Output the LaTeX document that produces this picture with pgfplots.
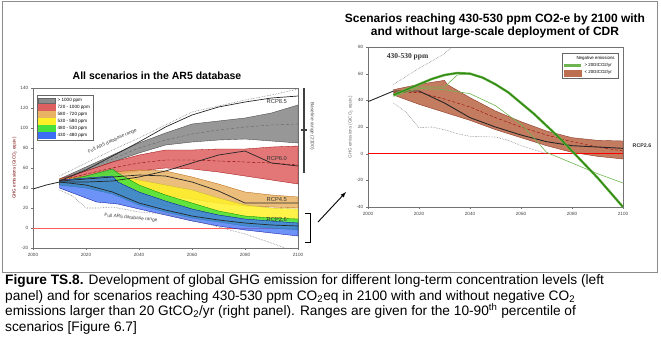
\documentclass[border=0pt]{standalone}
\usepackage{fontspec}
\setmainfont{Liberation Sans}
\newfontfamily\serifb{Liberation Serif}
\usepackage{pgfplots}
\pgfplotsset{compat=1.18}
\definecolor{cgrey}{RGB}{140,140,140}
\definecolor{cred}{RGB}{222,95,95}
\definecolor{corange}{RGB}{232,180,100}
\definecolor{cyellow}{RGB}{255,240,40}
\definecolor{cgreen}{RGB}{70,225,60}
\definecolor{cblue}{RGB}{60,110,245}
\definecolor{cbrown}{RGB}{190,110,80}
\definecolor{cbrownd}{RGB}{140,55,35}
\definecolor{gdark}{RGB}{50,140,20}
\definecolor{glight}{RGB}{110,180,80}
\definecolor{zline}{RGB}{255,90,90}
\pgfplotsset{
  panel/.style={scale only axis, clip=true,
    xmin=2000, xmax=2100, xtick={2000,2020,...,2100},
    tick label style={font=\fontsize{4.6}{5}\selectfont, color=black!75},
    /pgf/number format/assume math mode=true,
    /pgf/number format/1000 sep={},
    axis line style={black!55}, tick style={black!55},
    major tick length=1.8pt, tick align=outside,
    xtick pos=bottom, ytick pos=left,
    yticklabel style={xshift=0.5pt}, xticklabel style={yshift=0.5pt},
    legend cell align=left,
  },
}
\begin{document}
\begin{tikzpicture}
\path[use as bounding box] (0,0) rectangle (661pt,-360pt);
\draw[black!45, line width=0.9pt] (2.5pt,-1.5pt) rectangle (657pt,-272pt);

% ---------------- left panel ----------------
\begin{axis}[panel, at={(33pt,-248pt)}, anchor=south west, width=265pt, height=160pt,
  ymin=-20, ymax=140, ytick={-20,0,...,140},
  ylabel={GHG emissions (GtCO\textsubscript{2} equiv)},
  ylabel style={font=\fontsize{4.5}{5}\selectfont, color=red!45!black, yshift=-3pt},
  legend style={at={(0.015,0.956)}, anchor=north west, font=\fontsize{4.6}{5}\selectfont,
    draw=black!60, inner sep=1pt, row sep=-1.8pt, fill=white}]
\addlegendimage{area legend, fill=cgrey, draw=black!60}
\addlegendentry{> 1000 ppm}
\addlegendimage{area legend, fill=cred, draw=cred}
\addlegendentry{720 - 1000 ppm}
\addlegendimage{area legend, fill=corange, draw=corange}
\addlegendentry{580 - 720 ppm}
\addlegendimage{area legend, fill=cyellow, draw=cyellow}
\addlegendentry{530 - 580 ppm}
\addlegendimage{area legend, fill=cgreen, draw=cgreen}
\addlegendentry{480 - 530 ppm}
\addlegendimage{area legend, fill=cblue, draw=cblue}
\addlegendentry{430 - 480 ppm}
\addplot[forget plot, draw=zline, solid, line width=0.8pt] coordinates {(2000,0)(2100,0)};
% >1000
\addplot[forget plot, fill=cgrey, fill opacity=0.9, draw=black!70, line width=0.4pt] coordinates {
(2010,49)(2020,61)(2030,73)(2040,85)(2050,95)(2060,104)(2070,107)(2080,110)(2090,115)(2100,123)
(2100,85)(2090,87)(2080,89)(2070,88)(2060,86)(2050,83)(2040,75)(2030,66)(2020,57)(2010,47)} -- cycle;
% 720-1000
\addplot[forget plot, fill=cred, fill opacity=0.85, draw=red!60!black, line width=0.3pt] coordinates {
(2010,49)(2020,57)(2030,66)(2040,73)(2050,78)(2060,78)(2070,79)(2080,79)(2090,81)(2100,82)
(2100,44)(2090,48)(2080,52)(2070,56)(2060,59)(2050,60)(2040,57)(2030,53)(2020,50)(2010,47)} -- cycle;
% 580-720
\addplot[forget plot, fill=corange, fill opacity=0.85, draw=orange!70!black, line width=0.3pt] coordinates {
(2010,49)(2020,52)(2030,56)(2040,58)(2050,57)(2060,51)(2070,44)(2080,36)(2090,33)(2100,31)
(2100,20)(2090,21)(2080,22)(2070,25)(2060,29)(2050,33)(2040,37)(2030,40)(2020,42)(2010,43)} -- cycle;
% 530-580
\addplot[forget plot, fill=cyellow, fill opacity=0.85, draw=yellow!70!black, line width=0.3pt] coordinates {
(2010,48)(2020,50)(2030,53)(2040,48)(2050,43)(2060,38)(2070,30)(2080,23)(2090,20)(2100,19)
(2100,7)(2090,8)(2080,10)(2070,13)(2060,17)(2050,22)(2040,28)(2030,35)(2020,41)(2010,43)} -- cycle;
% 480-530
\addplot[forget plot, fill=cgreen, fill opacity=0.85, draw=green!50!black, line width=0.3pt] coordinates {
(2010,46)(2020,52)(2030,59)(2032,55)(2040,43)(2050,33)(2060,25)(2070,17)(2080,12)(2090,10)(2100,9)
(2100,-2)(2090,0)(2080,2)(2070,6)(2060,10)(2050,16)(2040,23)(2030,34)(2020,40)(2010,43)} -- cycle;
% 430-480
\addplot[forget plot, fill=cblue, fill opacity=0.75, draw=blue!60!black, line width=0.3pt] coordinates {
(2010,48)(2020,50)(2030,52)(2032,46)(2040,36)(2050,27)(2060,19)(2070,13)(2080,9)(2090,7)(2100,5)
(2100,-8)(2090,-5)(2080,-2)(2070,2)(2060,7)(2050,13)(2040,19)(2032,24)(2024,26)(2017,33)(2010,40)} -- cycle;
% medians
\addplot[forget plot, black!60, densely dashed, line width=0.4pt] coordinates {
(2010,48)(2020,59)(2030,69)(2040,80)(2050,88)(2060,94)(2070,98)(2080,101)(2090,103)(2100,104)};
\addplot[forget plot, red!50!black, densely dashed, line width=0.4pt] coordinates {
(2010,47)(2020,54)(2030,60)(2040,65)(2050,68)(2060,68)(2070,67)(2080,66)(2090,65)(2100,63)};
% full range
\addplot[forget plot, black!50, densely dotted, line width=0.6pt] coordinates {
(2010,52)(2020,65)(2030,78)(2040,90)(2050,103)(2060,116)(2070,122)(2080,128)(2090,133)(2100,139)};
\addplot[forget plot, black!50, densely dotted, line width=0.6pt] coordinates {
(2010,38)(2015,32)(2020,20)(2025,20)(2030,21)(2040,16)(2050,14)(2060,8)(2070,1)(2080,-6)(2090,-15)(2095,-20)(2098,-24)};
% history + RCPs
\addplot[forget plot, black!85, line width=0.8pt] coordinates {(2000,39)(2005,43)(2010,46)};
\addplot[forget plot, black!85, line width=0.7pt] coordinates {
(2010,47)(2020,58)(2030,72)(2040,86)(2050,101)(2060,113)(2070,121)(2080,126)(2090,130)(2100,132)};
\addplot[forget plot, black!85, line width=0.7pt] coordinates {
(2010,46)(2020,46)(2030,47)(2040,51)(2050,57)(2060,65)(2070,73)(2080,77)(2090,65)(2100,62)};
\addplot[forget plot, black!85, line width=0.7pt] coordinates {
(2010,47)(2020,49)(2030,51)(2040,53)(2050,52)(2060,46)(2070,37)(2080,25)(2090,25)(2100,25)};
\addplot[forget plot, black!85, line width=0.7pt] coordinates {
(2010,46)(2020,43)(2030,36)(2040,25)(2050,18)(2060,12)(2070,8)(2080,5)(2090,3)(2100,2)};
\node[font=\fontsize{5.8}{6}\selectfont, black!80] at (axis cs:2092,127) {RCP8.5};
\node[font=\fontsize{5.8}{6}\selectfont, black!80] at (axis cs:2092,70) {RCP6.0};
\node[font=\fontsize{5.8}{6}\selectfont, black!80] at (axis cs:2092,29) {RCP4.5};
\node[font=\fontsize{5.8}{6}\selectfont, black!80] at (axis cs:2092,9) {RCP2.6};
\node[font=\fontsize{4.8}{5}\selectfont, black!75, rotate=25] at (axis cs:2030,87) {Full AR5 database range};
\node[font=\fontsize{4.8}{5}\selectfont, black!75, rotate=-5] at (axis cs:2037,10) {Full AR5 database range};
\end{axis}

% ---------------- right panel ----------------
\begin{axis}[panel, at={(368pt,-207pt)}, anchor=south west, width=255pt, height=160pt,
  ymin=-40, ymax=80, ytick={-40,-20,...,80},
  ylabel={GHG emissions (GtCO\textsubscript{2} equiv.)},
  ylabel style={font=\fontsize{4.5}{5}\selectfont, color=black!60, yshift=-3pt},
  legend style={at={(0.98,0.9625)}, anchor=north east, font=\fontsize{4.4}{5}\selectfont,
    draw=black!60, inner sep=1pt, row sep=-1.5pt, fill=white}]
\addlegendimage{empty legend}
\addlegendentry{\hspace{-8pt}Negative emissions}
\addlegendimage{line width=2.6pt, color=glight}
\addlegendentry{> 20GtCO2/yr}
\addlegendimage{area legend, fill=cbrown, draw=cbrown}
\addlegendentry{< 20GtCO2/yr}
\addplot[forget plot, fill=cbrown, fill opacity=0.9, draw=cbrownd, line width=0.4pt] coordinates {
(2010,48)(2020,52)(2030,55)(2031,52)(2040,42)(2050,32)(2060,24)(2070,17)(2080,12)(2090,10)(2100,9.5)
(2100,-4)(2090,-2)(2080,1)(2070,6)(2060,12)(2050,18)(2040,25)(2030,31)(2020,37)(2010,44)} -- cycle;
\addplot[forget plot, draw=red, solid, line width=1pt] coordinates {(2000,0)(2100,0)};
\addplot[forget plot, red!60!black, densely dashed, line width=0.4pt] coordinates {
(2010,46)(2020,46)(2030,41)(2040,35)(2050,27)(2060,20)(2070,14)(2080,9)(2090,5)(2100,2)};
\addplot[forget plot, black!50, densely dotted, line width=0.6pt] coordinates {
(2010,52)(2020,64)(2030,75)(2035,84)};
\addplot[forget plot, black!50, densely dotted, line width=0.6pt] coordinates {
(2010,38)(2015,31)(2020,19.5)(2025,20)(2030,18)(2035,15)(2040,13)(2050,12.5)(2055,10)(2060,6)(2065,3)(2070,0)};
\addplot[forget plot, black!85, line width=0.9pt] coordinates {(2000,39)(2005,43)(2010,47)};
\addplot[forget plot, black!85, line width=0.9pt] coordinates {
(2010,47)(2020,47)(2030,38)(2040,27)(2050,20)(2060,14)(2070,9)(2080,6)(2090,5)(2100,4)};
\addplot[forget plot, glight, line width=0.6pt] coordinates {
(2010,45)(2020,50)(2030,50)(2035,59)(2040,60)};
\addplot[forget plot, glight, line width=0.6pt] coordinates {
(2010,43)(2020,49)(2030,48)(2040,45)(2050,36)(2060,22)(2065,12)(2070,1)(2080,-7)(2090,-15)(2100,-22)};
\addplot[forget plot, glight, line width=2.4pt] coordinates {
(2010,44)(2015,48)(2020,52)(2025,56)(2030,59)(2035,60.5)(2040,60)(2045,57)(2050,52)(2055,46)(2060,38)(2065,30)(2070,21)(2075,12)(2080,2)(2085,-8)(2090,-18)(2095,-29)(2100,-40)};
\addplot[forget plot, gdark, line width=1.3pt] coordinates {
(2010,44)(2015,48)(2020,52)(2025,56)(2030,59)(2035,60.5)(2040,60)(2045,57)(2050,52)(2055,46)(2060,38)(2065,30)(2070,21)(2075,12)(2080,2)(2085,-8)(2090,-18)(2095,-29)(2100,-40)};
\node[font=\serifb\bfseries\fontsize{7.5}{8}\selectfont, black!80, anchor=west] at (axis cs:2006,73) {430-530 ppm};
\end{axis}

% ---------------- annotations ----------------
\node[font=\bfseries\fontsize{10.5}{11}\selectfont] at (157pt,-76pt) {All scenarios in the AR5 database};
\node[font=\bfseries\fontsize{12}{12}\selectfont] at (495pt,-19pt) {Scenarios reaching 430-530 ppm CO2-e by 2100 with};
\node[font=\bfseries\fontsize{12}{12}\selectfont] at (495pt,-32.5pt) {and without large-scale deployment of CDR};
\node[font=\bfseries\fontsize{5.3}{6}\selectfont, black!80] at (642pt,-146pt) {RCP2.6};
% baseline range
\draw[black!75, line width=2.4pt] (304pt,-88pt) -- (304pt,-173pt);
\draw[black!75, line width=1.6pt] (301pt,-130pt) -- (307pt,-130pt);
\node[font=\fontsize{4.8}{5}\selectfont, black!70, rotate=-90] at (312pt,-126pt) {Baseline range (2100)};
% bracket and arrow
\draw[black, line width=1pt] (305pt,-213pt) -- (310pt,-213pt) -- (310pt,-242pt) -- (305pt,-242pt);
\draw[black, line width=0.9pt, -latex] (318pt,-222pt) -- (346pt,-192pt);
% caption
\begin{scope}[every node/.style={anchor=base west, inner sep=0pt, font=\fontsize{13.7}{15}\selectfont}]
\node at (5pt,-284.5pt) {\textbf{Figure TS.8.} Development of global GHG emission for different long-term concentration levels (left};
\node at (5pt,-300pt) {panel) and for scenarios reaching 430-530 ppm CO\textsubscript{2}eq in 2100 with and without negative CO\textsubscript{2}};
\node at (5pt,-315.5pt) {emissions larger than 20 GtCO\textsubscript{2}/yr (right panel). Ranges are given for the 10-90\textsuperscript{th} percentile of};
\node at (5pt,-331pt) {scenarios [Figure 6.7]};
\end{scope}
\end{tikzpicture}
\end{document}
